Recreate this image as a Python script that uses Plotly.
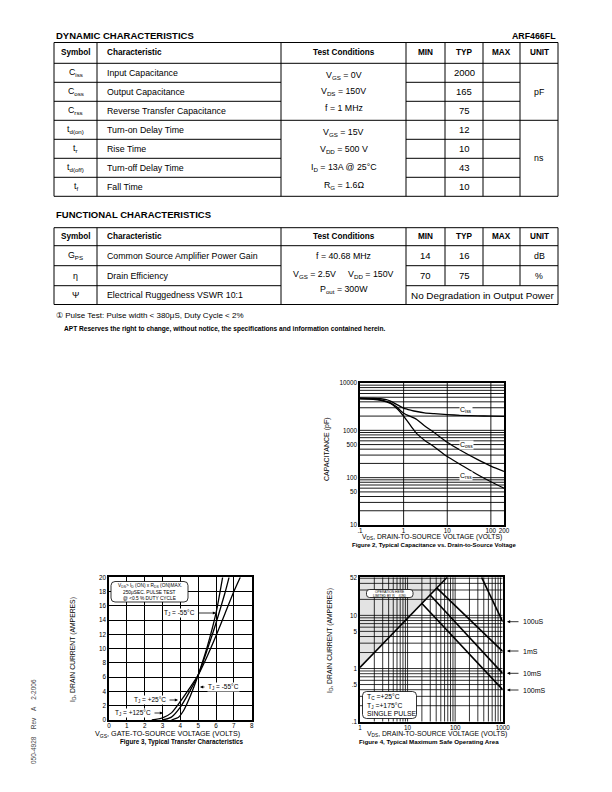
import plotly.graph_objects as go

# page is placed with the browser's 8px body margin, so draw on a 604x784 figure
OFF = 8
W, H = 612 - OFF, 792 - OFF
FONT = "Liberation Sans, Arial, sans-serif"

# ---------------- table data ----------------
col_x = [54, 97, 281, 406, 445, 483, 520, 558]
headers = ["Symbol", "Characteristic", "Test Conditions", "MIN", "TYP", "MAX", "UNIT"]

dyn_symbols = ["C<sub>iss</sub>", "C<sub>oss</sub>", "C<sub>rss</sub>", "t<sub>d(on)</sub>",
               "t<sub>r</sub>", "t<sub>d(off)</sub>", "t<sub>f</sub>"]
dyn_chars = ["Input Capacitance", "Output Capacitance", "Reverse Transfer Capacitance",
             "Turn-on Delay Time", "Rise Time", "Turn-off Delay Time", "Fall Time"]
dyn_typ = ["2000", "165", "75", "12", "10", "43", "10"]
dyn_cond_a = ["V<sub>GS</sub> = 0V", "V<sub>DS</sub> = 150V", "f = 1 MHz"]
dyn_cond_b = ["V<sub>GS</sub> = 15V", "V<sub>DD</sub> = 500 V", "I<sub>D</sub> = 13A @ 25°C", "R<sub>G</sub> = 1.6Ω"]

fun_symbols = ["G<sub>PS</sub>", "η", "Ψ"]
fun_chars = ["Common Source Amplifier Power Gain", "Drain Efficiency", "Electrical Ruggedness VSWR 10:1"]
fun_min = ["14", "70"]
fun_typ = ["16", "75"]
fun_unit = ["dB", "%"]

# ---------------- figure 2 data (capacitance) ----------------
ciss_v = [0.1, 0.2, 0.3, 0.4, 0.5, 0.7, 1, 1.5, 2, 3, 5, 10, 20, 50, 100, 200]
ciss_c = [4800, 4750, 4650, 4450, 4150, 3500, 2950, 2650, 2500, 2350, 2250, 2150, 2080, 2020, 2000, 1980]
coss_v = [0.1, 0.2, 0.3, 0.5, 0.7, 1, 2, 3, 5, 10, 20, 50, 100, 200]
coss_c = [4700, 4600, 4400, 3800, 3100, 2300, 1700, 1250, 900, 560, 380, 240, 175, 135]
crss_v = [0.1, 0.2, 0.3, 0.5, 0.7, 1, 1.5, 2, 3, 5, 10, 20, 50, 100, 200]
crss_c = [4600, 4500, 4300, 3700, 2900, 2000, 1200, 850, 620, 450, 280, 190, 115, 82, 60]

# ---------------- figure 3 data (transfer) ----------------
t125_v = [2.4, 3.0, 3.5, 4.0, 4.5, 5.0, 5.5, 6.0, 6.5, 7.0, 7.36]
t125_i = [0, 0.3, 1.0, 2.6, 4.4, 6.3, 8.9, 11.8, 14.9, 18.0, 20]
t25_v = [3.0, 3.5, 4.0, 4.5, 5.0, 5.5, 6.0, 6.5, 6.73]
t25_i = [0, 0.4, 1.8, 3.9, 6.3, 9.8, 13.6, 17.8, 20]
tm55_v = [3.5, 3.9, 4.2, 4.5, 4.8, 5.0, 5.5, 6.0, 6.37]
tm55_i = [0, 0.4, 1.4, 3.0, 4.9, 6.3, 10.2, 15.0, 20]

# ---------------- figure 4 data (SOA) ----------------
rds_v = [1, 68]
rds_i = [1.05, 52]
soa_100us_v = [360, 1000]
soa_100us_i = [52, 7.6]
soa_1ms_v = [41, 1000]
soa_1ms_i = [33, 2.1]
soa_10ms_v = [29.5, 1000]
soa_10ms_i = [24.5, 0.81]
soa_100ms_v = [19.8, 1000]
soa_100ms_i = [16.9, 0.40]


def X(px):
    return (px - OFF) / W


def Y(py):
    return 1 - (py - OFF) / H


fig = go.Figure()
ann = []
shp = []


def txt(x, y, s, size=8, anchor="center", bold=False, angle=0, color="black", family=FONT, bg=None):
    if bold:
        s = "<b>" + s + "</b>"
    d = dict(x=X(x), y=Y(y), xref="paper", yref="paper", text=s, showarrow=False,
             xanchor=anchor, yanchor="middle", textangle=angle,
             font=dict(size=size, color=color, family=family))
    if bg:
        d["bgcolor"] = bg
        d["borderpad"] = 0
    ann.append(d)


def hline(x0, x1, y, w=1):
    shp.append(dict(type="line", xref="paper", yref="paper", x0=X(x0), x1=X(x1), y0=Y(y), y1=Y(y),
                    line=dict(color="black", width=w)))


def vline(x, y0, y1, w=1):
    shp.append(dict(type="line", xref="paper", yref="paper", x0=X(x), x1=X(x), y0=Y(y0), y1=Y(y1),
                    line=dict(color="black", width=w)))


def rrect(x0, y0, x1, y1, r, fill="white", w=0.8):
    p = (f"M {X(x0 + r)},{Y(y0)} L {X(x1 - r)},{Y(y0)} Q {X(x1)},{Y(y0)} {X(x1)},{Y(y0 + r)} "
         f"L {X(x1)},{Y(y1 - r)} Q {X(x1)},{Y(y1)} {X(x1 - r)},{Y(y1)} "
         f"L {X(x0 + r)},{Y(y1)} Q {X(x0)},{Y(y1)} {X(x0)},{Y(y1 - r)} "
         f"L {X(x0)},{Y(y0 + r)} Q {X(x0)},{Y(y0)} {X(x0 + r)},{Y(y0)} Z")
    shp.append(dict(type="path", xref="paper", yref="paper", path=p, fillcolor=fill,
                    line=dict(color="black", width=w), layer="above"))


def header_row(ytop, ybot):
    yc = (ytop + ybot) / 2
    for i, h in enumerate(headers):
        if i == 1:
            txt(col_x[1] + 8, yc, h, 8.2, "left", True)
        else:
            txt((col_x[i] + col_x[i + 1]) / 2, yc, h, 8.2, "center", True)


BODY = 8.8

# ---------------- dynamic table ----------------
txt(54, 36, "DYNAMIC CHARACTERISTICS", 9.5, "left", True)
txt(558, 36, "ARF466FL", 8.8, "right", True)
d_top, d_head = 42.5, 63.3
row_h = 19.0
d_rows = [d_head + row_h * i for i in range(8)]
d_bot = d_rows[-1]
hline(col_x[0], col_x[-1], d_top)
hline(col_x[0], col_x[-1], d_head)
hline(col_x[0], col_x[-1], d_bot)
hline(col_x[0], col_x[-1], d_rows[3])
for k in [1, 2, 4, 5, 6]:
    hline(col_x[0], col_x[2], d_rows[k])
    hline(col_x[3], col_x[6], d_rows[k])
for cx in col_x:
    vline(cx, d_top, d_bot)
header_row(d_top, d_head)
for i in range(7):
    yc = d_rows[i] + row_h / 2
    txt((col_x[0] + col_x[1]) / 2, yc, dyn_symbols[i], BODY)
    txt(col_x[1] + 8, yc, dyn_chars[i], BODY, "left")
    txt((col_x[4] + col_x[5]) / 2, yc, dyn_typ[i], 9.5)
for j, s in enumerate(dyn_cond_a):
    txt((col_x[2] + col_x[3]) / 2, 75 + j * 16.5, s, BODY)
for j, s in enumerate(dyn_cond_b):
    txt((col_x[2] + col_x[3]) / 2, 132 + j * 17.7, s, BODY)
txt((col_x[6] + col_x[7]) / 2, (d_rows[0] + d_rows[3]) / 2, "pF", BODY)
txt((col_x[6] + col_x[7]) / 2, (d_rows[3] + d_rows[7]) / 2, "ns", BODY)

# ---------------- functional table ----------------
txt(54, 215, "FUNCTIONAL CHARACTERISTICS", 9.5, "left", True)
f_top, f_head = 227.7, 245.7
f_rows = [f_head, 265.7, 285.7, 304.5]
hline(col_x[0], col_x[-1], f_top)
hline(col_x[0], col_x[-1], f_head)
hline(col_x[0], col_x[-1], f_rows[-1])
for k in [1, 2]:
    hline(col_x[0], col_x[2], f_rows[k])
    hline(col_x[3], col_x[7], f_rows[k])
for cx in [col_x[0], col_x[1], col_x[2], col_x[3], col_x[7]]:
    vline(cx, f_top, f_rows[-1])
for cx in [col_x[4], col_x[5], col_x[6]]:
    vline(cx, f_top, f_rows[2])
header_row(f_top, f_head)
for i in range(3):
    yc = (f_rows[i] + f_rows[i + 1]) / 2
    txt((col_x[0] + col_x[1]) / 2, yc, fun_symbols[i], BODY)
    txt(col_x[1] + 8, yc, fun_chars[i], BODY, "left")
for i in range(2):
    yc = (f_rows[i] + f_rows[i + 1]) / 2
    txt((col_x[3] + col_x[4]) / 2, yc, fun_min[i], 9.5)
    txt((col_x[4] + col_x[5]) / 2, yc, fun_typ[i], 9.5)
    txt((col_x[6] + col_x[7]) / 2, yc, fun_unit[i], BODY)
tc = (col_x[2] + col_x[3]) / 2
txt(tc, 256, "f = 40.68 MHz", BODY)
txt(tc, 274, "V<sub>GS</sub> = 2.5V     V<sub>DD</sub> = 150V", BODY)
txt(tc, 290, "P<sub>out</sub> = 300W", BODY)
txt((col_x[3] + col_x[7]) / 2, 295.5, "No Degradation in Output Power", 9.9)

txt(54, 315, "① Pulse Test: Pulse width < 380μS, Duty Cycle < 2%", 8, "left")
txt(62, 329, "APT Reserves the right to change, without notice, the specifications and information contained herein.",
    6.6, "left", True)

txt(33, 722, "050-4928    Rev    A    2-2006", 6.5, "center", angle=-90, color="#444")

# ---------------- axes geometry ----------------
ax2 = dict(x=(360, 504), y=(383, 525))
ax3 = dict(x=(109, 251.7), y=(577.3, 720))
ax4 = dict(x=(360, 502.7), y=(577.3, 721.7))


def dom(a):
    return [X(a["x"][0]), X(a["x"][1])], [Y(a["y"][1]), Y(a["y"][0])]


tickfont = dict(size=6.3, family=FONT, color="black")
common = dict(showline=True, mirror=True, linecolor="black", linewidth=1.5, ticks="",
              zeroline=False, tickfont=tickfont, fixedrange=True, automargin=False)

xd, yd = dom(ax2)
fig.update_layout(
    xaxis=dict(domain=xd, anchor="y", type="log", range=[-1, 2.30103], showgrid=False,
               tickvals=[0.1, 1, 10, 100, 200], ticktext=[".1", "1", "10", "100", "200"],
               ticklabelstandoff=-1, **common),
    yaxis=dict(domain=yd, anchor="x", type="log", range=[1, 4], showgrid=False,
               tickvals=[10, 50, 100, 500, 1000, 10000], ticktext=["10", "50", "100", "500", "1000", "10000"],
               **common),
)
xd, yd = dom(ax3)
fig.update_layout(
    xaxis2=dict(domain=xd, anchor="y2", range=[0, 8], dtick=1, showgrid=True, gridcolor="black",
                gridwidth=0.8, ticklabelstandoff=-1, **common),
    yaxis2=dict(domain=yd, anchor="x2", range=[0, 20], dtick=2, showgrid=True, gridcolor="black",
                gridwidth=0.8, **common),
)
xd, yd = dom(ax4)
fig.update_layout(
    xaxis3=dict(domain=xd, anchor="y3", type="log", range=[0, 3], showgrid=False,
                tickvals=[1, 10, 100, 1000], ticktext=["1", "10", "100", "1000"],
                ticklabelstandoff=-1, **common),
    yaxis3=dict(domain=yd, anchor="x3", type="log", range=[-1, 1.716], showgrid=False,
                tickvals=[0.1, 0.5, 1, 5, 10, 52], ticktext=[".1", ".5", "1", "5", "10", "52"], **common),
)


def grid_trace(xs, ys, xa, ya, horiz_vals, vert_vals, w=0.8):
    gx, gy = [], []
    for v in horiz_vals:
        gx += [xs[0], xs[1], None]
        gy += [v, v, None]
    for v in vert_vals:
        gx += [v, v, None]
        gy += [ys[0], ys[1], None]
    fig.add_trace(go.Scatter(x=gx, y=gy, mode="lines", xaxis=xa, yaxis=ya, hoverinfo="skip",
                             line=dict(color="black", width=w)))


def log_vals(e0, e1, lo, hi):
    out = []
    for e in range(e0, e1 + 1):
        for m in range(1, 10):
            v = m * 10 ** e
            if lo < v < hi:
                out.append(v)
    return out


# ---- figure 2 ----
grid_trace([0.1, 200], [10, 10000], "x", "y", log_vals(1, 3, 10, 10000), [1, 10, 100], 0.9)
for v, c in [(ciss_v, ciss_c), (coss_v, coss_c), (crss_v, crss_c)]:
    fig.add_trace(go.Scatter(x=v, y=c, mode="lines", xaxis="x", yaxis="y",
                             line=dict(color="black", width=1.3, shape="spline", smoothing=0.8)))
txt(466, 410.5, "C<sub>iss</sub>", 7, "center", bg="white")
txt(466, 445, "C<sub>oss</sub>", 7, "center", bg="white")
txt(466, 476, "C<sub>rss</sub>", 7, "center", bg="white")
txt(327, 449, "CAPACITANCE (pF)", 7, angle=-90)
txt(432, 537, "V<sub>DS</sub>, DRAIN-TO-SOURCE VOLTAGE (VOLTS)", 6.8)
txt(434, 544.5, "Figure 2, Typical Capacitance vs. Drain-to-Source Voltage", 6.0, bold=True)

# ---- figure 3 ----
for v, i in [(t125_v, t125_i), (t25_v, t25_i), (tm55_v, tm55_i)]:
    fig.add_trace(go.Scatter(x=v, y=i, mode="lines", xaxis="x2", yaxis="y2",
                             line=dict(color="black", width=1.3, shape="spline", smoothing=0.6)))
rrect(111, 581.5, 188, 602, 4)
txt(149.5, 585.5, "V<sub>DS</sub>> I<sub>D</sub> (ON) x R<sub>DS</sub> (ON)MAX.", 4.8)
txt(149.5, 592, "250μSEC. PULSE TEST", 4.8)
txt(149.5, 598, "@ <0.5 % DUTY CYCLE", 4.8)


def arrow(x_tip, y_tip, dx):
    ann.append(dict(x=X(x_tip), y=Y(y_tip), xref="paper", yref="paper", ax=dx, ay=0, text="",
                    showarrow=True, arrowhead=2, arrowsize=0.8, arrowwidth=0.8, arrowcolor="black"))


txt(196, 613, "T<sub>J</sub> = -55°C", 6.5, "right", bg="white")
arrow(216, 613, -19)
txt(207, 687, "T<sub>J</sub> = -55°C", 6.5, "left", bg="white")
arrow(200, 687, 6)
txt(167, 700, "T<sub>J</sub> = +25°C", 6.5, "right", bg="white")
arrow(178, 700, -10)
txt(152, 713, "T<sub>J</sub> = +125°C", 6.5, "right", bg="white")
arrow(163, 713, -10)
txt(73, 650, "I<sub>D</sub>, DRAIN CURRENT (AMPERES)", 6.8, angle=-90)
txt(167, 733.5, "V<sub>GS</sub>, GATE-TO-SOURCE VOLTAGE (VOLTS)", 7.2)
txt(182, 741.5, "Figure 3, Typical Transfer Characteristics", 6.3, bold=True)

# ---- figure 4 ----
fig.add_trace(go.Scatter(x=[rds_v[0], rds_v[1], rds_v[0], rds_v[0]], y=[rds_i[0], rds_i[1], rds_i[1], rds_i[0]],
                         mode="lines", fill="toself", fillcolor="#e3e3e3", line=dict(width=0),
                         xaxis="x3", yaxis="y3", hoverinfo="skip"))
grid_trace([1, 1000], [0.1, 52], "x3", "y3", log_vals(-1, 1, 0.1, 52), log_vals(0, 2, 1, 1000), 0.8)
for v, i in [(rds_v, rds_i), (soa_100us_v, soa_100us_i), (soa_1ms_v, soa_1ms_i),
             (soa_10ms_v, soa_10ms_i), (soa_100ms_v, soa_100ms_i)]:
    fig.add_trace(go.Scatter(x=v, y=i, mode="lines", xaxis="x3", yaxis="y3",
                             line=dict(color="black", width=1.6)))
rrect(366.5, 589.5, 413, 597.5, 3)
txt(389.7, 591.5, "OPERATION HERE", 3.3)
txt(389.7, 595.5, "LIMITED BY R<sub>DS</sub> (ON)", 3.3)
rrect(362.5, 691.5, 416.5, 718.5, 4)
txt(364.5, 697, "T<sub>C</sub> =+25°C", 6.8, "left")
txt(364.5, 705.5, "T<sub>J</sub> =+175°C", 6.8, "left")
txt(364.5, 713.5, "SINGLE PULSE", 6.8, "left")
for lab, yy in [("100uS", 621.7), ("1mS", 651), ("10mS", 673.3), ("100mS", 690)]:
    txt(521, yy, lab, 7, "left")
    arrow(507, yy, 13)
txt(330, 640, "I<sub>D</sub>, DRAIN CURRENT (AMPERES)", 6.8, angle=-90)
txt(437, 733.5, "V<sub>DS</sub>, DRAIN-TO-SOURCE VOLTAGE (VOLTS)", 6.8)
txt(429, 741.5, "Figure 4, Typical Maximum Safe Operating Area", 6.2, bold=True)

fig.update_layout(width=W, height=H, margin=dict(l=0, r=0, t=0, b=0), showlegend=False,
                  plot_bgcolor="white", paper_bgcolor="white",
                  annotations=ann, shapes=shp, font=dict(family=FONT, size=8))
fig.write_html("out.html")
